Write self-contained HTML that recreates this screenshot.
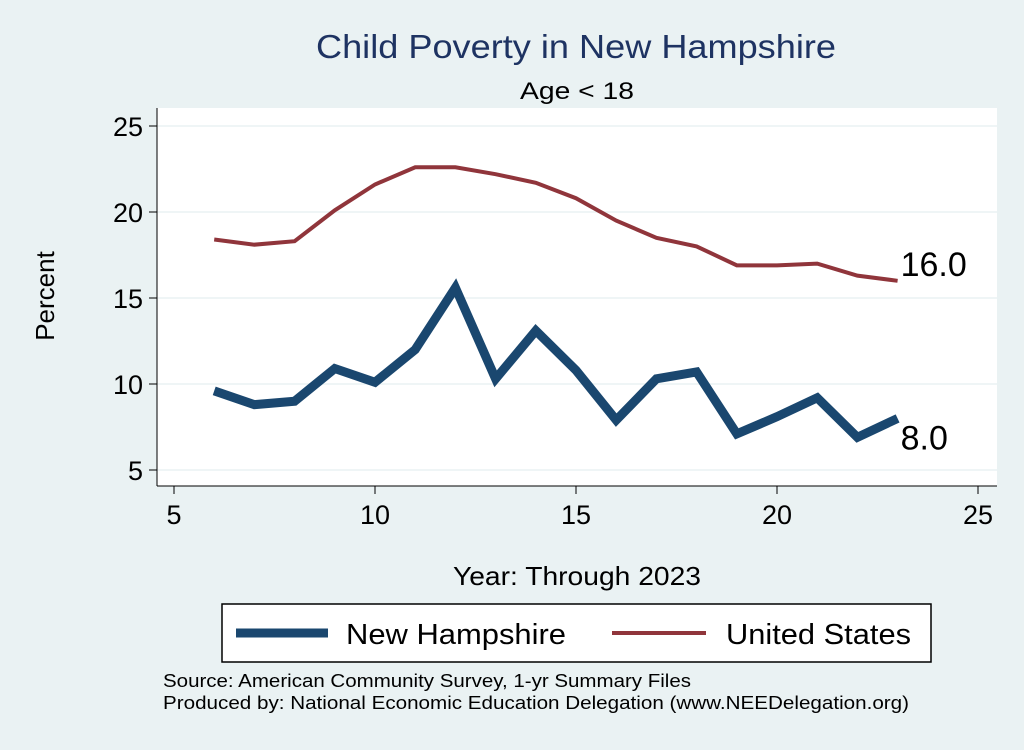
<!DOCTYPE html>
<html><head><meta charset="utf-8"><style>
body{margin:0;background:#eaf2f3;font-family:"Liberation Sans",sans-serif}
svg text{font-family:"Liberation Sans",sans-serif}
</style></head><body>
<svg width="1024" height="745" xmlns="http://www.w3.org/2000/svg">
<rect x="0" y="0" width="1024" height="745" fill="#eaf2f3"/>
<text x="316" y="58" font-size="33" fill="#1e3362" textLength="520" lengthAdjust="spacingAndGlyphs">Child Poverty in New Hampshire</text>
<text x="520" y="99" font-size="24" fill="#000" textLength="114" lengthAdjust="spacingAndGlyphs">Age &lt; 18</text>
<rect x="157" y="108" width="840" height="378" fill="#fff"/>
<g id="grid"></g><g id="axes"></g><g id="series"></g>
<text x="453" y="585" font-size="26" textLength="248" lengthAdjust="spacingAndGlyphs">Year: Through 2023</text>
<text transform="translate(54,296) rotate(-90)" font-size="26" text-anchor="middle">Percent</text>
<g>
<rect x="222" y="604" width="709" height="58" fill="#fff" stroke="#000" stroke-width="1.5"/>
<line x1="236" y1="633" x2="328" y2="633" stroke="#1a476f" stroke-width="9"/>
<text x="346" y="644" font-size="29" textLength="220" lengthAdjust="spacingAndGlyphs">New Hampshire</text>
<line x1="612" y1="633" x2="706" y2="633" stroke="#90353b" stroke-width="4"/>
<text x="726" y="644" font-size="29" textLength="185" lengthAdjust="spacingAndGlyphs">United States</text>
</g>
<text x="163" y="687" font-size="18" textLength="528" lengthAdjust="spacingAndGlyphs">Source: American Community Survey, 1-yr Summary Files</text>
<text x="163" y="709" font-size="18" textLength="746" lengthAdjust="spacingAndGlyphs">Produced by: National Economic Education Delegation (www.NEEDelegation.org)</text>
</svg>
<script>
const years=[6,7,8,9,10,11,12,13,14,15,16,17,18,19,20,21,22,23];
const nhValues=[9.6,8.8,9.0,10.9,10.1,12.0,15.6,10.3,13.1,10.8,7.9,10.3,10.7,7.1,8.1,9.2,6.9,8.0];
const usValues=[18.4,18.1,18.3,20.1,21.6,22.6,22.6,22.2,21.7,20.8,19.5,18.5,18.0,16.9,16.9,17.0,16.3,16.0];
const xTicks=[5,10,15,20,25];
const yTicks=[5,10,15,20,25];
const NS="http://www.w3.org/2000/svg";
const xs=v=>174+(v-5)*40.2;
const ys=v=>470-(v-5)*17.2;
function mk(tag,attrs,parent){const e=document.createElementNS(NS,tag);for(const k in attrs)e.setAttribute(k,attrs[k]);document.getElementById(parent).appendChild(e);return e;}
yTicks.forEach(t=>{
 const g=mk('line',{x1:157,x2:997,y1:ys(t),y2:ys(t),stroke:'#eaf2f3','stroke-width':1.5},'grid');
 
 
 const tk=mk('line',{x1:149,x2:157,y1:ys(t),y2:ys(t),stroke:'#000'},'axes');
 
 
 const tx=mk('text',{x:143,y:ys(t)+10,'font-size':27,'text-anchor':'end'},'axes');tx.textContent=t;
 
 
});
xTicks.forEach(t=>{
 const tk=mk('line',{x1:xs(t),x2:xs(t),y1:486,y2:494,stroke:'#000'},'axes');
 
 
 const tx=mk('text',{x:xs(t),y:524,'font-size':27,'text-anchor':'middle'},'axes');tx.textContent=t;
 
 
});
const ya=mk('line',{x1:157,x2:157,y1:108,y2:486,stroke:'#000'},'axes');


const xa=mk('line',{x1:157,x2:997,y1:486,y2:486,stroke:'#000'},'axes');


function series(vals,color,w,name){
 const p=mk('polyline',{points:years.map((y,i)=>xs(y)+','+ys(vals[i])).join(' '),fill:'none',stroke:color,'stroke-width':w,'stroke-linejoin':'miter'},'series');
 
 
 const last=vals[vals.length-1];
 const t=mk('text',{x:xs(years[years.length-1])+3,y:ys(last)+(name==='line-us'?-5:31),'font-size':34},'series');
 t.textContent=last.toFixed(1);
 
 
}
series(usValues,'#90353b',4,'line-us');
series(nhValues,'#1a476f',9,'line-nh');
</script>
</body></html>
